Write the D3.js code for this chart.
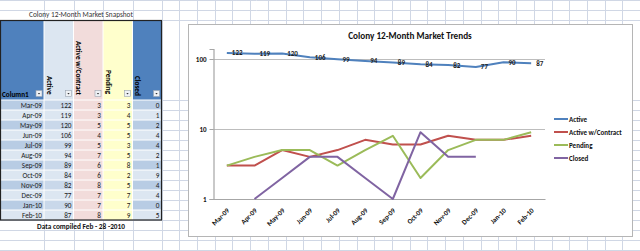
<!DOCTYPE html>
<html>
<head>
<meta charset="utf-8">
<script src="https://cdn.jsdelivr.net/npm/d3@7"></script>
<style>
  html, body { margin: 0; padding: 0; background: #fff; }
  svg { display: block; font-family: Carlito, Lato, sans-serif; }
</style>
</head>
<body>
<svg id="sheet" width="640" height="251"></svg>
<script>
const months = ["Mar-09","Apr-09","May-09","Jun-09","Jul-09","Aug-09","Sep-09","Oct-09","Nov-09","Dec-09","Jan-10","Feb-10"];
const active = [122,119,120,106,99,94,89,84,82,77,90,87];
const activeContract = [3,3,5,4,5,7,6,6,8,7,7,8];
const pending = [3,4,5,5,3,5,8,2,5,7,7,9];
const closed = [0,1,2,4,4,2,1,9,4,4,0,5];
const seriesNames = ["Active","Active w/Contract","Pending","Closed"];
const yTicks = [1,10,100];

const svg = d3.select("#sheet");

// ---- excel sheet grid in the background
const grid = svg.append("g").attr("stroke", "#d0d7e5").attr("stroke-width", 1);
const colEdges = [44, 73.5, 103, 132.5];
for (let x = 161.5; x < 640; x += 17.73) colEdges.push(x);
const rowEdges = [0.5, 10.5, 20.5];
for (let y = 100.5; y < 251; y += 10) rowEdges.push(y);
colEdges.forEach(x => grid.append("line").attr("x1", Math.round(x)+0.5).attr("x2", Math.round(x)+0.5).attr("y1", 0).attr("y2", 251));
rowEdges.forEach(y => grid.append("line").attr("x1", 0).attr("x2", 640).attr("y1", y).attr("y2", y));

// ---- table
const tbl = svg.append("g");
const cols = [
  {name: "Column1", x0: 0, x1: 44, head: "#4f81bd", dark: "#b8cce4", light: "#dce6f1", vals: months},
  {name: "Active", x0: 44, x1: 73.5, head: "#dce6f1", dark: "#c9d8ea", light: "#dce6f1", vals: active, ty: 76},
  {name: "Active w/Contract", x0: 73.5, x1: 103, head: "#f2dcdb", dark: "#f2dcdb", light: "#f2dcdb", vals: activeContract, ty: 41},
  {name: "Pending", x0: 103, x1: 132.5, head: "#ffffcc", dark: "#ffffcc", light: "#ffffcc", vals: pending, ty: 70},
  {name: "Closed", x0: 132.5, x1: 161.5, head: "#4f81bd", dark: "#b8cce4", light: "#dce6f1", vals: closed, ty: 76}
];
const rowY = d3.scaleBand().domain(d3.range(months.length)).range([100, 220]);

tbl.append("rect").attr("x", 0).attr("y", 20).attr("width", 161.5).attr("height", 200).attr("fill", "#fff");
cols.forEach((c, ci) => {
  tbl.append("rect").attr("x", c.x0).attr("y", 20).attr("width", c.x1 - c.x0).attr("height", 80).attr("fill", c.head);
  c.vals.forEach((v, i) => {
    tbl.append("rect")
      .attr("x", c.x0).attr("y", rowY(i))
      .attr("width", c.x1 - c.x0).attr("height", rowY.bandwidth())
      .attr("fill", i % 2 === 0 ? c.dark : c.light);
    tbl.append("text")
      .attr("x", c.x1 - 2).attr("y", rowY(i) + 7.6)
      .attr("text-anchor", "end")
      .attr("font-size", 7.2).attr("fill", "#1a1a1a")
      .text(v);
  });
  // header label
  const clipId = "clip" + ci;
  svg.append("clipPath").attr("id", clipId).append("rect")
    .attr("x", c.x0).attr("y", 20).attr("width", c.x1 - c.x0).attr("height", 78);
  if (ci === 0) {
    tbl.append("text").attr("x", 2).attr("y", 97).attr("font-size", 7.2)
      .attr("font-weight", "bold").attr("fill", "#000").text(c.name);
  } else {
    tbl.append("g").attr("clip-path", `url(#${clipId})`)
      .append("text")
      .attr("transform", `translate(${c.x0 + 2.5},${c.ty}) rotate(90)`)
      .attr("font-size", 7.2).attr("font-weight", "bold").attr("fill", "#000")
      .text(c.name);
  }
  // filter button
  const bx = c.x1 - 8, by = 90.5;
  tbl.append("rect").attr("x", bx).attr("y", by).attr("width", 6).attr("height", 6)
    .attr("fill", "#eef1f5").attr("stroke", "#9aa3b0").attr("stroke-width", 0.6);
  tbl.append("path").attr("d", `M${bx + 1.8},${by + 2.6}h2.4l-1.2,1.4z`).attr("fill", "#333");
});
// white separators
const sep = tbl.append("g").attr("stroke", "#fff").attr("stroke-width", 1);
cols.slice(1).forEach(c => sep.append("line").attr("x1", c.x0).attr("x2", c.x0).attr("y1", 20).attr("y2", 220));
months.forEach((m, i) => sep.append("line").attr("x1", 0).attr("x2", 161.5).attr("y1", rowY(i)).attr("y2", rowY(i)));
// outer border
tbl.append("rect").attr("x", 0.5).attr("y", 20.5).attr("width", 161).attr("height", 199.5)
  .attr("fill", "none").attr("stroke", "#222").attr("stroke-width", 1.2);

svg.append("text").attr("x", 81).attr("y", 17).attr("text-anchor", "middle")
  .attr("font-size", 7.3).attr("fill", "#333").text("Colony 12-Month Market Snapshot");
svg.append("text").attr("x", 81).attr("y", 229).attr("text-anchor", "middle")
  .attr("font-size", 7.3).attr("font-weight", "bold").attr("fill", "#111").text("Data compiled Feb - 28 -2010");

// ---- chart
const ch = svg.append("g");
ch.append("rect").attr("x", 188.5).attr("y", 24.5).attr("width", 444).attr("height", 212)
  .attr("fill", "#fff").attr("stroke", "#b5b5b5").attr("stroke-width", 1);
ch.append("text").attr("x", 410).attr("y", 38.5).attr("text-anchor", "middle")
  .attr("font-size", 9.2).attr("font-weight", "bold").attr("fill", "#111")
  .text("Colony 12-Month Market Trends");

const x = d3.scaleBand().domain(months).range([213, 545]);
const cx = m => x(m) + x.bandwidth() / 2;
const y = d3.scaleLog().domain([1, 139]).range([199, 49]);

// gridlines
ch.append("g").selectAll("line").data(yTicks).join("line")
  .attr("x1", 213).attr("x2", 545)
  .attr("y1", d => Math.round(y(d)) + 0.5).attr("y2", d => Math.round(y(d)) + 0.5)
  .attr("stroke", "#bdbdbd").attr("stroke-width", 1.2);

const yAxis = ch.append("g").attr("transform", "translate(213.5,0)")
  .call(d3.axisLeft(y).tickValues(yTicks).tickFormat(d3.format("d")).tickSize(4).tickPadding(3));
yAxis.select(".domain").attr("stroke", "#a6a6a6").attr("stroke-width", 1.2);
yAxis.selectAll(".tick line").attr("stroke", "#a6a6a6");
yAxis.selectAll(".tick text").attr("font-size", 7).attr("font-weight", "bold").attr("fill", "#111")
  .attr("font-family", "Carlito, Lato, sans-serif");

const xAxis = ch.append("g").attr("transform", "translate(0,199)")
  .call(d3.axisBottom(x).tickSize(0).tickPadding(0));
xAxis.select(".domain").attr("stroke", "#a6a6a6").attr("stroke-width", 1.2);
xAxis.selectAll(".tick text")
  .attr("font-size", 7).attr("font-weight", "bold").attr("fill", "#111")
  .attr("font-family", "Carlito, Lato, sans-serif")
  .attr("text-anchor", "end")
  .attr("dy", null).attr("y", 0)
  .attr("transform", "translate(3,12) rotate(-45)");

// series lines
const allSeries = [active, activeContract, pending, closed];
const colors = ["#4f81bd", "#c0504d", "#9bbb59", "#8064a2"];
const line = d3.line()
  .defined(d => d.v > 0)
  .x(d => cx(d.m))
  .y(d => y(d.v));
allSeries.forEach((s, si) => {
  ch.append("path")
    .datum(s.map((v, i) => ({m: months[i], v: v})))
    .attr("fill", "none").attr("stroke", colors[si]).attr("stroke-width", 2)
    .attr("stroke-linejoin", "round")
    .attr("d", line);
});

// data labels on Active
ch.append("g").selectAll("text").data(active).join("text")
  .attr("x", (d, i) => cx(months[i]) + 5)
  .attr("y", d => y(d) + 2.5)
  .attr("font-size", 7).attr("font-weight", "bold").attr("fill", "#222")
  .text(d => d);

// legend
const leg = ch.append("g").selectAll("g").data(seriesNames).join("g")
  .attr("transform", (d, i) => `translate(554,${119 + i * 13})`);
leg.append("line").attr("x1", 0).attr("x2", 14)
  .attr("stroke", (d, i) => colors[i]).attr("stroke-width", 2);
leg.append("text").attr("x", 15).attr("y", 2.5)
  .attr("font-size", 7).attr("font-weight", "bold").attr("fill", "#111")
  .text(d => d);
</script>
</body>
</html>
